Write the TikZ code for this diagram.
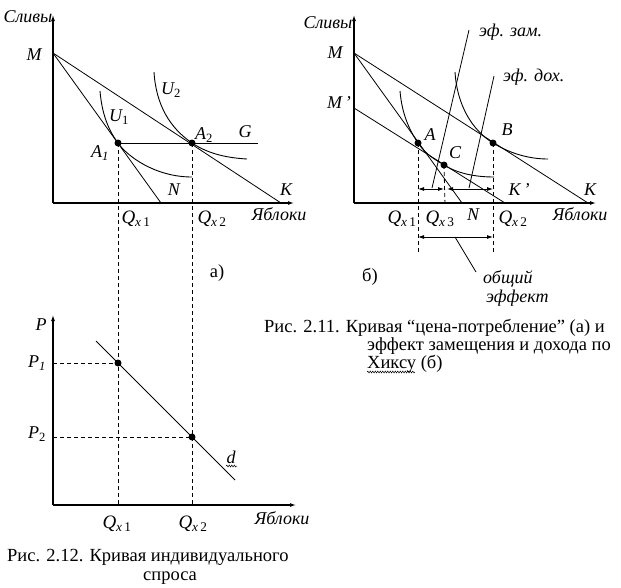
\documentclass[tikz,border=0pt]{standalone}
\usepackage{fontspec}
\setmainfont{Liberation Serif}
\usetikzlibrary{arrows.meta,decorations.pathmorphing}
\tikzset{%
  axis line/.style = {line width=1.1pt, -{Latex[length=6pt,width=4pt]}},
  thin line/.style = {line width=0.8pt},
  my dash pattern/.style = {line width=0.8pt, dash pattern = {on 4pt off 3pt}},
  lab/.style = {inner sep=0pt, font=\fontsize{18}{20}\selectfont\itshape},
  qlab/.style = {inner sep=0pt, font=\fontsize{19}{20}\selectfont},
  capt/.style = {inner sep=0pt, anchor=base west, font=\fontsize{18.5}{18}\selectfont},
  dot/.style = {circle,fill=black,inner sep=0pt,minimum size=7pt},
  both tips/.style = {line width=0.8pt, {Latex[length=6pt,width=4pt]}-{Latex[length=6pt,width=4pt]}},
  squiggle/.style = {line width=0.5pt, decorate, decoration={snake, amplitude=0.9pt, segment length=2.5pt}}
}
\newcommand{\qsub}[1]{\textit{Q}\textsubscript{\textit{x}\,\upshape #1}}

\begin{document}
\begin{tikzpicture}[x=1pt,y=-1pt]
\useasboundingbox (0,0) rectangle (621,587);
% ---------- panel a)
\coordinate (aO) at (53,203);
\coordinate (aM) at (53,53);
\coordinate (aN) at (161,203);
\coordinate (aK) at (281,203);
\coordinate (aG) at (258,143);
\draw[axis line] (aO) -- (53,15);
\draw[axis line] (aO) -- (294,203);
\draw[thin line] (aM) -- (aN);
\draw[thin line] (aM) -- (aK);
 \node[dot] (A1) at (118,143) {};
 \node[dot] (A2) at (192,143) {};
\draw[thin line] (A1.center) -- (aG);
\draw[line width=0.9pt] (100,91) .. controls (102,115) and (109,131) .. (118,143)
  .. controls (127,156) and (155,177) .. (192,177);
\draw[line width=0.9pt] (154,72) .. controls (156,105) and (170,128) .. (192,143)
  .. controls (210,155) and (230,158) .. (247,159);
 \node[lab] (slivyA) at (28,17) {Сливы};
 \node[lab] (labM) at (34,55) {M};
 \node[lab] (labU1) at (119,117) {\textit{U}\textsubscript{\upshape 1}};
 \node[lab] (labU2) at (171,90) {\textit{U}\textsubscript{\upshape 2}};
 \node[lab] (labA1) at (100,153) {\textit{A}\textsubscript{\textit{1}}};
 \node[lab] (labA2) at (204,135) {\textit{A}\textsubscript{\upshape 2}};
 \node[lab] (labG) at (245,132) {G};
 \node[lab] (labN) at (174,190) {N};
 \node[lab] (labK) at (286,190) {K};
 \node[lab] (yablA) at (279,214) {Яблоки};
 \node[qlab] (qa1) at (136,219) {\qsub{1}};
 \node[qlab] (qa2) at (212,219) {\qsub{2}};
 \node[capt,anchor=center] (capA) at (217,273) {а)};
% ---------- panel d (demand)
\coordinate (dO) at (53,505);
\coordinate (P1) at (53,363);
\coordinate (P2) at (53,437);
 \node[dot] (D1) at (118,363) {};
 \node[dot] (D2) at (192,437) {};
\draw[axis line] (dO) -- (53,315);
\draw[axis line] (dO) -- (296,505);
\draw[thin line] (96,341) -- (235,480);
\draw[my dash pattern] (A1.center) -- (118,505);
\draw[my dash pattern] (A2.center) -- (192,505);
\draw[my dash pattern] (P1) -- (D1.center);
\draw[my dash pattern] (P2) -- (D2.center);
 \node[lab] (labP) at (41,325) {P};
 \node[lab] (labP1) at (37,363) {\textit{P}\textsubscript{\textit{1}}};
 \node[lab] (labP2) at (37,434) {\textit{P}\textsubscript{\upshape 2}};
 \node[lab] (labd) at (231,457) {d};
\draw[squiggle] (226,466) -- (237,466);
 \node[lab] (yablD) at (282,518) {Яблоки};
 \node[qlab] (qd1) at (117,524) {\qsub{1}};
 \node[qlab] (qd2) at (193,524) {\qsub{2}};
 \node[capt] (capD1) at (7,561) {Рис. 2.12. Кривая индивидуального};
 \node[capt] (capD2) at (143,580) {спроса};
% ---------- panel b)
\coordinate (bO) at (354,203);
\coordinate (bM) at (354,53);
\coordinate (bMp) at (354,108);
\coordinate (bN) at (462,203);
\coordinate (bKp) at (505,203);
\coordinate (bK) at (588,203);
\draw[axis line] (bO) -- (354,15);
\draw[axis line] (bO) -- (596,203);
\draw[thin line] (bM) -- (bN);
\draw[thin line] (bM) -- (bK);
\draw[thin line] (bMp) -- (bKp);
 \node[dot] (A) at (418,143) {};
 \node[dot] (B) at (493,143) {};
 \node[dot] (C) at (444,165) {};
\draw[line width=0.9pt] (400,91) .. controls (402,115) and (410,131) .. (A.center)
  .. controls (426,155) and (436,160) .. (C.center)
  .. controls (460,175) and (480,177) .. (494,177);
\draw[line width=0.9pt] (455,72) .. controls (457,105) and (472,130) .. (B.center)
  .. controls (511,154) and (530,159) .. (548,159);
\coordinate (zam0) at (432,188);
\coordinate (zam1) at (469,30);
\coordinate (dox0) at (469,188);
\coordinate (dox1) at (494,76);
\draw[thin line] (zam0) -- (zam1);
\draw[thin line] (dox0) -- (dox1);
\draw[my dash pattern] (A.center) -- (418,252);
\draw[my dash pattern] (B.center) -- (493,252);
\draw[my dash pattern] (C.center) -- (445,205);
\coordinate (eA) at (418,189);
\coordinate (eC) at (444,189);
\coordinate (eC2) at (447,189);
\coordinate (eB) at (493,189);
\draw[both tips] (eA) -- (eC);
\draw[both tips] (eC2) -- (eB);
\coordinate (tA) at (418,237);
\coordinate (tB) at (493,237);
\coordinate (tot) at (476,272);
\draw[both tips] (tA) -- (tB);
\draw[thin line] (455,237) -- (tot);
 \node[lab] (slivyB) at (328,23) {Сливы};
 \node[lab] (labbM) at (335,53) {M};
 \node[lab] (labbMp) at (339,103) {M\,'};
 \node[lab] (labbA) at (430,135) {A};
 \node[lab] (labbB) at (507,130) {B};
 \node[lab] (labbC) at (455,153) {C};
 \node[lab] (labbN) at (473,215) {N};
 \node[lab] (labbKp) at (519,190) {K\,'};
 \node[lab] (labbK) at (590,190) {K};
 \node[lab] (yablB) at (580,214) {Яблоки};
 \node[qlab] (qb1) at (402,219) {\qsub{1}};
 \node[qlab] (qb3) at (440,219) {\qsub{3}};
 \node[qlab] (qb2) at (513,219) {\qsub{2}};
 \node[lab,anchor=west] (labzam) at (479,32) {эф. зам.};
 \node[lab,anchor=west] (labdox) at (503,77) {эф. дох.};
 \node[lab,anchor=west] (labob) at (483,279) {общий};
 \node[lab,anchor=west] (labef) at (486,298) {эффект};
 \node[capt,anchor=center] (capB) at (370,277) {б)};
 \node[capt] (capB1) at (264,332) {Рис. 2.11. Кривая “цена-потребление” (а) и};
 \node[capt] (capB2) at (367,350) {эффект замещения и дохода по};
 \node[capt] (capB3) at (367,368) {Хиксу (б)};
\draw[squiggle] (367,372) -- (415,372);
\end{tikzpicture}
\end{document}
